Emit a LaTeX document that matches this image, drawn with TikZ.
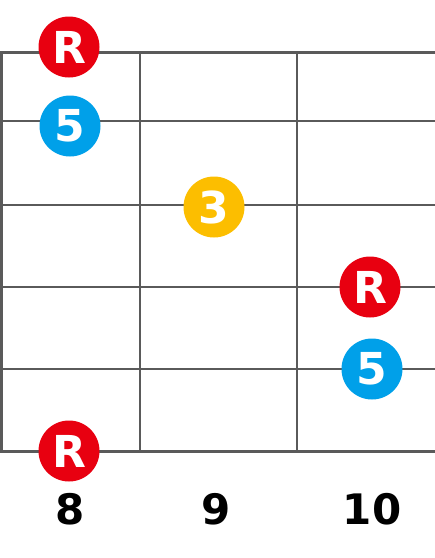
\documentclass[tikz,border=0pt]{standalone}
\usepackage{fontspec}
\setmainfont{DejaVu Sans}
\definecolor{rootred}{RGB}{232,0,16}
\definecolor{fifthblue}{RGB}{0,160,233}
\definecolor{thirdyellow}{RGB}{252,190,0}
\definecolor{gridgray}{RGB}{90,90,90}
\tikzset{
  x=1pt, y=-1pt,
  outerline/.style={draw=gridgray, line width=3pt},
  innerline/.style={draw=gridgray, line width=1.4pt},
  tone/.style={circle, minimum size=61pt, inner sep=0pt, text=white,
    font=\fontsize{44}{44}\selectfont\bfseries},
  rootdot/.style={tone, fill=rootred},
  fifthdot/.style={tone, fill=fifthblue},
  thirddot/.style={tone, fill=thirdyellow},
  fretnum/.style={font=\fontsize{42}{42}\selectfont\bfseries, text=black, inner sep=0pt}
}
\begin{document}
\begin{tikzpicture}
\useasboundingbox (0,0) rectangle (435,558);
% inner strings
\foreach \yy in {121,205,287,369} \draw[innerline] (0,\yy) -- (435,\yy);
% frets
\foreach \xx in {140,297} \draw[innerline] (\xx,52) -- (\xx,451);
% outer lines
\draw[outerline] (435,52) -- (1.5,52) -- (1.5,451) -- (435,451);
% dots
\node[rootdot] (r1) at (69,47) {R};
\node[fifthdot] (f1) at (70,126) {5};
\node[thirddot] (t1) at (214,207) {3};
\node[rootdot] (r2) at (370,287) {R};
\node[fifthdot] (f2) at (372,369) {5};
\node[rootdot] (r3) at (69,451) {R};
% fret numbers
\node[fretnum] (n8) at (70,509) {8};
\node[fretnum] (n9) at (216,509) {9};
\node[fretnum] (n10) at (372,509) {10};
\end{tikzpicture}
\end{document}
